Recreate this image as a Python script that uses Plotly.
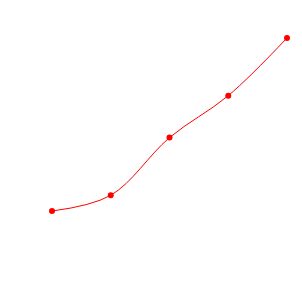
import plotly.graph_objects as go

x_values = [1, 2, 3, 4, 5]
y_values = [0, 3, 14, 22, 33]

fig = go.Figure()
fig.add_trace(go.Scatter(
    x=x_values, y=y_values,
    mode="lines+markers",
    line=dict(color="#ff0000", width=1, shape="spline"),
    marker=dict(color="#ff0000", size=6, symbol="circle"),
    hoverinfo="skip",
))
fig.update_layout(
    width=302, height=283,
    margin=dict(l=0, r=0, t=0, b=0),
    paper_bgcolor="white", plot_bgcolor="white",
    showlegend=False,
    xaxis=dict(visible=False, range=[1 - 52 / 58.75, 5 + 15 / 58.75]),
    yaxis=dict(visible=False, range=[-72 / 5.2424, 211 / 5.2424]),
)
fig.write_html("out.html")
